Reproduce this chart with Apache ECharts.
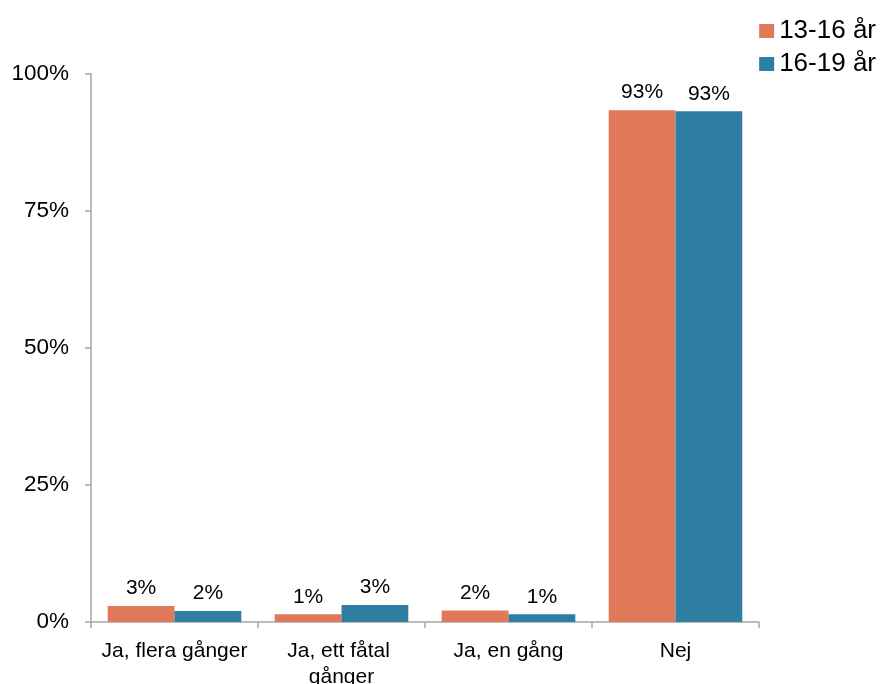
<!DOCTYPE html>
<html>
<head>
<meta charset="utf-8">
<script src="https://cdn.jsdelivr.net/npm/echarts@6/dist/echarts.min.js"></script>
<style>
  html, body { margin: 0; padding: 0; background: #fff; }
  #chart { width: 882px; height: 684px; }
</style>
</head>
<body>
<div id="chart"></div>
<script>
// svarsalternativ
const categories = ['Ja, flera gånger', 'Ja, ett fåtal gånger', 'Ja, en gång', 'Nej']
const seriesNames = ['13-16 år', '16-19 år']
// andel i procent
const age13to16 = [2.9, 1.4, 2.1, 93.4]
const age16to19 = [2.0, 3.1, 1.4, 93.2]
const yTicks = [0, 25, 50, 75, 100]

const chart = echarts.init(document.getElementById('chart'))
const font = 'Liberation Sans, Arial, sans-serif'
const axisGray = '#a6a6a6'

const barLabel = {
  show: true,
  position: 'top',
  distance: 7,
  fontFamily: font,
  fontSize: 21,
  color: '#000',
  formatter: p => Math.round(p.value) + '%'
}

const option = {
  animation: false,
  color: ['#E0785A', '#2E7EA2'],
  grid: { left: 91, right: 123, top: 74, bottom: 62, outerBoundsMode: 'none', containLabel: false },
  legend: {
    right: 1,
    top: 13,
    orient: 'vertical',
    icon: 'rect',
    itemWidth: 15,
    itemHeight: 14,
    itemGap: 7,
    textStyle: { fontFamily: font, fontSize: 26, color: '#000' },
    data: seriesNames
  },
  xAxis: {
    type: 'category',
    data: categories,
    axisLine: { lineStyle: { color: axisGray, width: 1.5 } },
    axisTick: { show: true, length: 6, lineStyle: { color: axisGray, width: 1.5 } },
    axisLabel: {
      interval: 0,
      margin: 16,
      width: 160,
      overflow: 'break',
      lineHeight: 26,
      fontFamily: font,
      fontSize: 21,
      color: '#000'
    }
  },
  yAxis: {
    type: 'value',
    min: yTicks[0],
    max: yTicks[yTicks.length - 1],
    interval: 25,
    splitLine: { show: false },
    axisLine: { show: true, lineStyle: { color: axisGray, width: 1.5 } },
    axisTick: { show: true, length: 6, lineStyle: { color: axisGray, width: 1.5 } },
    axisLabel: {
      margin: 22,
      fontFamily: font,
      fontSize: 22.5,
      color: '#000',
      formatter: v => v + '%'
    }
  },
  series: [
    {
      name: seriesNames[0],
      type: 'bar',
      data: age13to16,
      barGap: '0%',
      barCategoryGap: '20%',
      label: barLabel
    },
    {
      name: seriesNames[1],
      type: 'bar',
      data: age16to19,
      barGap: '0%',
      barCategoryGap: '20%',
      label: barLabel
    }
  ]
}
option && chart.setOption(option)
</script>
</body>
</html>
